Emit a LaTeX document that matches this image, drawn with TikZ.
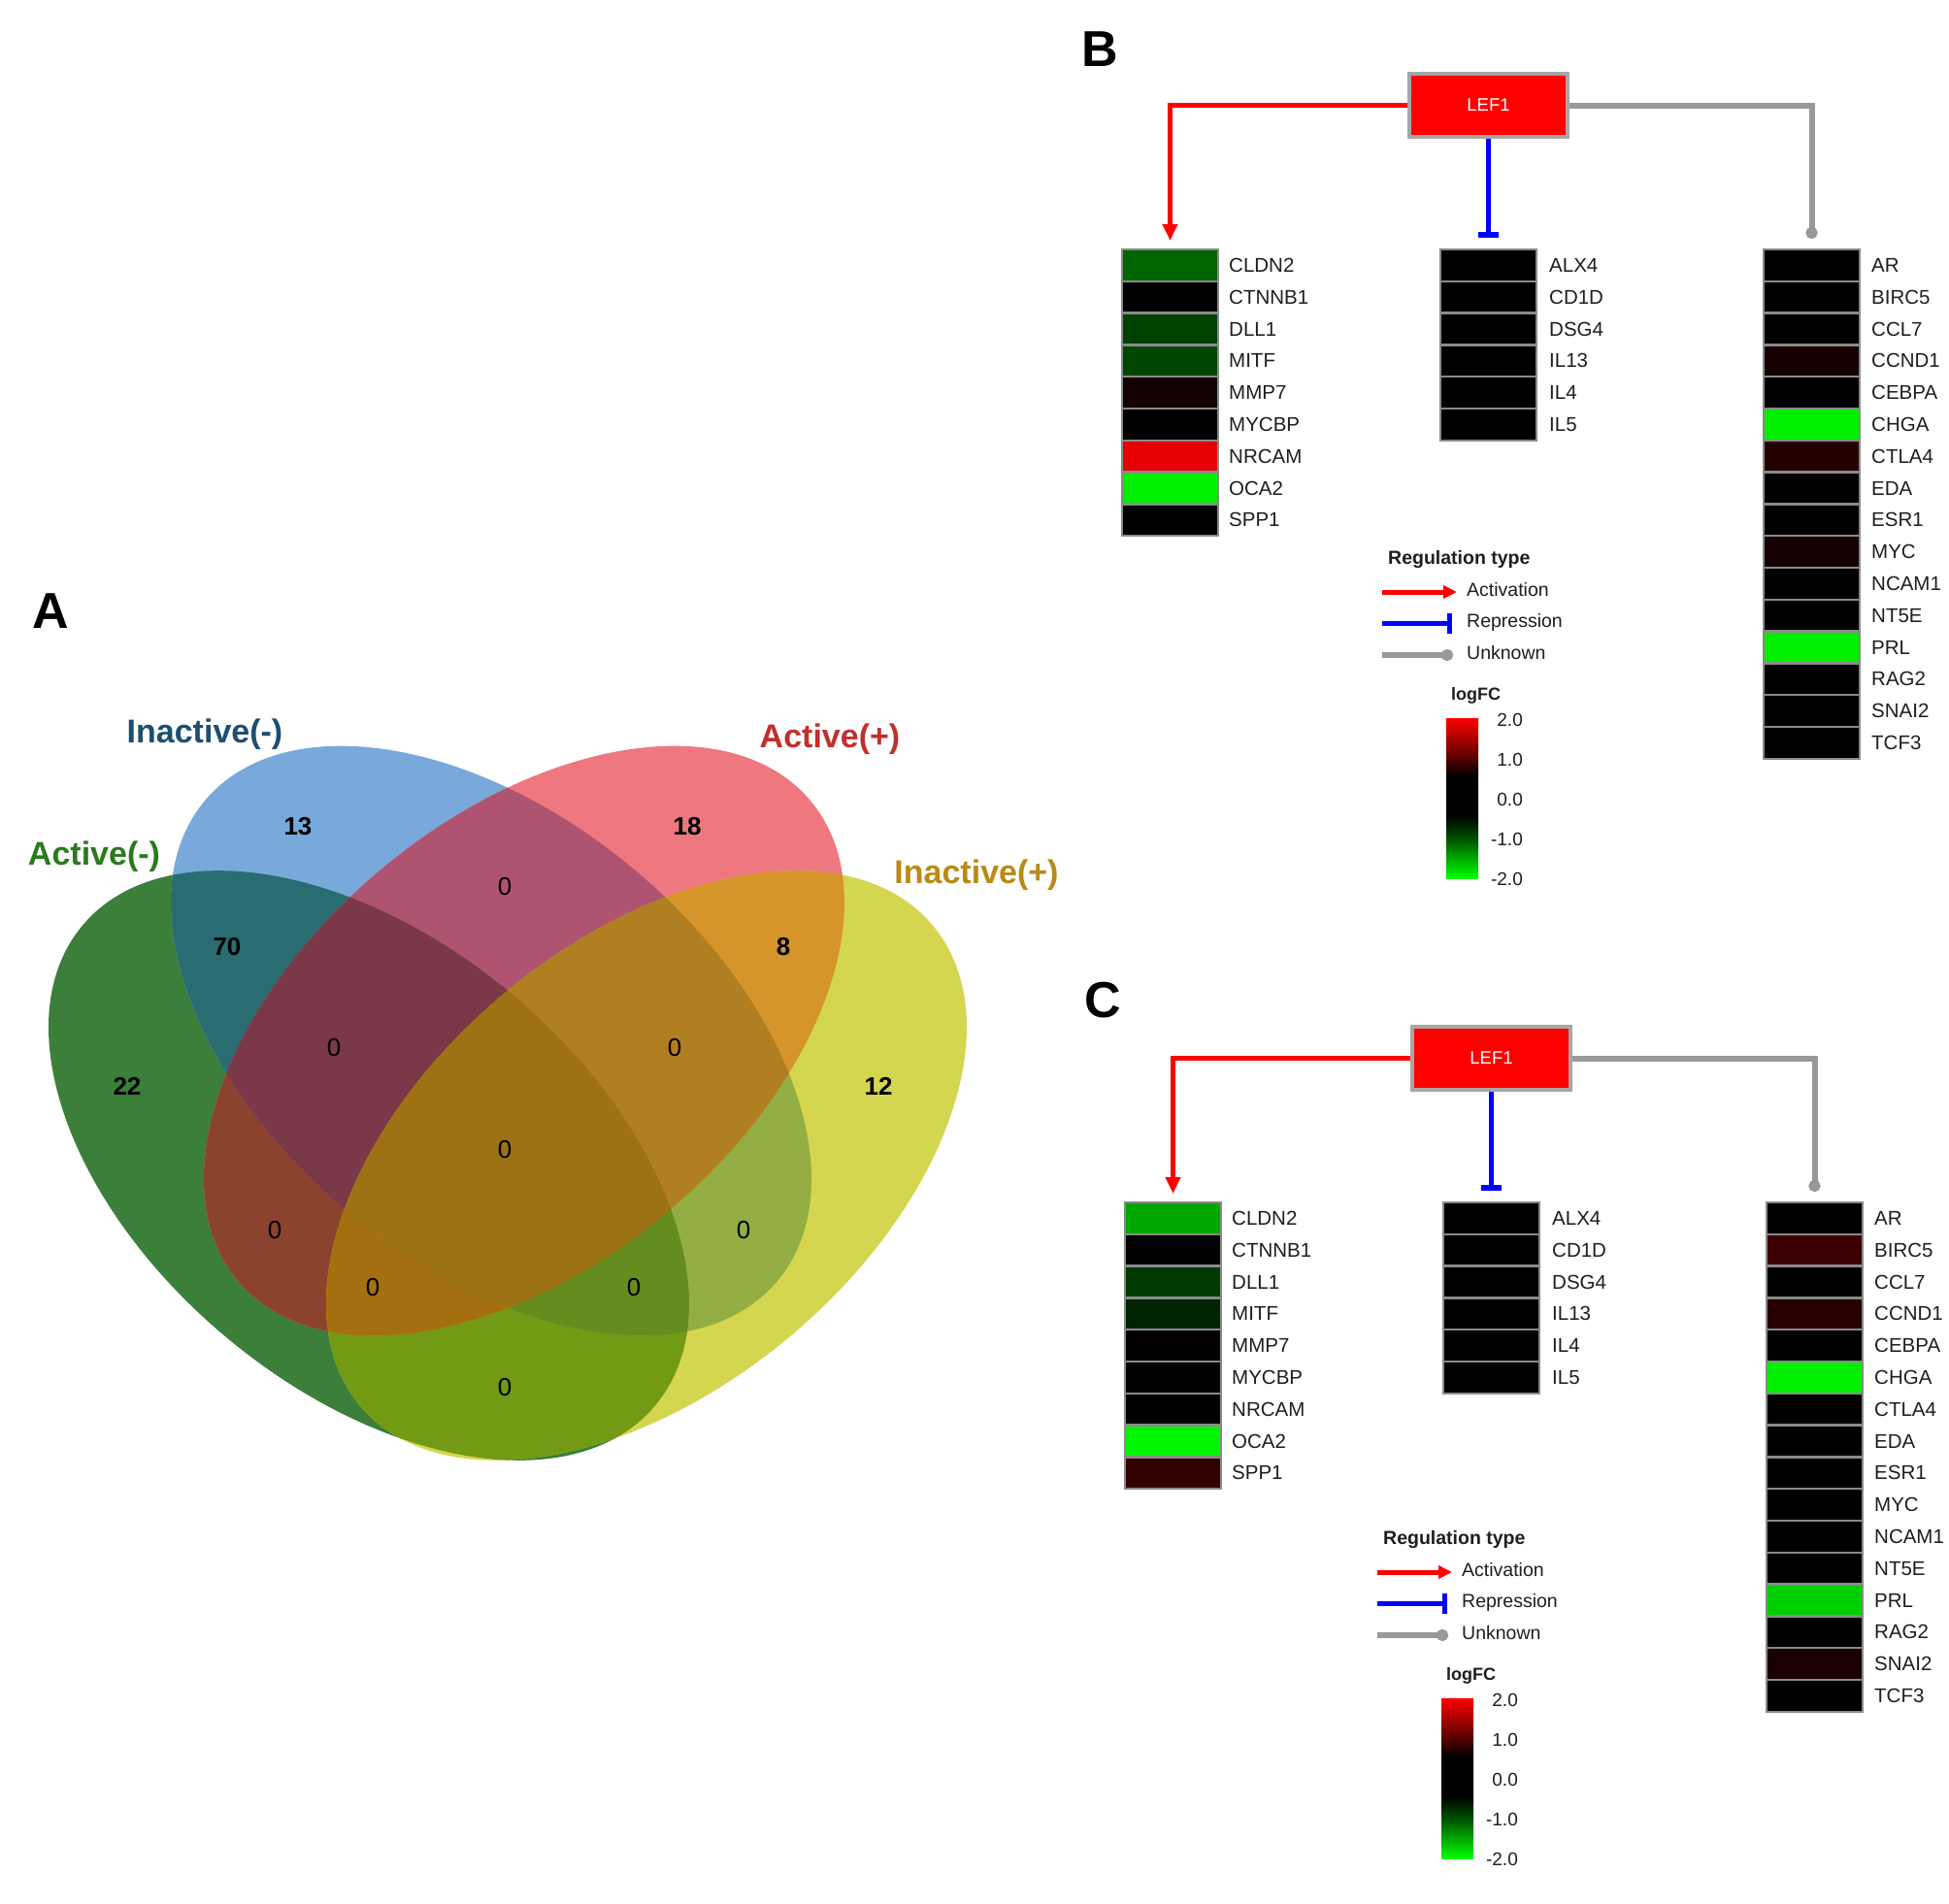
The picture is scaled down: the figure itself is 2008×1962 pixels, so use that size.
\documentclass[tikz,border=0pt]{standalone}
\usepackage{fontspec}
\setmainfont{Liberation Sans}
\usetikzlibrary{arrows.meta}
% Venn region colours
\definecolor{vG}{HTML}{3C7F3B}
\definecolor{vB}{HTML}{78A9DA}
\definecolor{vR}{HTML}{EE7780}
\definecolor{vY}{HTML}{D5D64F}
\definecolor{vGB}{HTML}{296D72}
\definecolor{vGR}{HTML}{8B432F}
\definecolor{vGY}{HTML}{739A14}
\definecolor{vBR}{HTML}{AE5470}
\definecolor{vBY}{HTML}{93AE43}
\definecolor{vRY}{HTML}{D5952B}
\definecolor{vGBR}{HTML}{7B3848}
\definecolor{vGBY}{HTML}{658C1E}
\definecolor{vGRY}{HTML}{A4700F}
\definecolor{vBRY}{HTML}{B07F22}
\definecolor{vALL}{HTML}{9D7214}
% labels
\definecolor{labIm}{HTML}{1B4F72}
\definecolor{labAp}{HTML}{C0302E}
\definecolor{labAm}{HTML}{2A7A1E}
\definecolor{labIp}{HTML}{B98A14}
% network
\definecolor{cellborder}{HTML}{8A8A8A}
\definecolor{boxborder}{HTML}{A6A6A6}
\definecolor{unkgray}{HTML}{999999}
\definecolor{genetext}{HTML}{1E1E1E}
\definecolor{cbG}{HTML}{00FF00}
\definecolor{cbDG}{HTML}{005000}
\definecolor{cbDR}{HTML}{500000}
\definecolor{cbR}{HTML}{FF0000}
\pgfdeclareverticalshading{logfcshade}{100bp}{color(0bp)=(cbG); color(25bp)=(cbG); color(37.5bp)=(cbDG); color(44.5bp)=(black); color(57bp)=(black); color(62bp)=(cbDR); color(75bp)=(cbR); color(100bp)=(cbR)}

\newcommand\ellG[1]{\path[#1,rotate around={-40:(380,1201)}] (380,1201) ellipse [x radius=385, y radius=230];}
\newcommand\ellB[1]{\path[#1,rotate around={-40:(506,1072.5)}] (506,1072.5) ellipse [x radius=385, y radius=230];}
\newcommand\ellR[1]{\path[#1,rotate around={40:(540,1072.5)}] (540,1072.5) ellipse [x radius=385, y radius=230];}
\newcommand\ellY[1]{\path[#1,rotate around={40:(666,1201)}] (666,1201) ellipse [x radius=385, y radius=230];}

% #1 name prefix, #2 cell left x, #3 top y, #4 label x, #5 list name/colour
\newcommand\genecolumn[5]{%
  \foreach \g/\c [count=\i from 0] in {#5} {
    \definecolor{cellc}{HTML}{\c}
    \pgfmathsetmacro\cy{#3+16.4+32.8*\i}
    \node[cell, fill=cellc] (#1-\i) at ({#2+49.5},\cy) {};
    \node[glabel] (#1l-\i) at (#4,\cy) {\g};
  }}

% #1 prefix, #2 dx, #3 dy
\newcommand\reglegend[3]{%
  \begin{scope}[shift={(#2,#3)}]
    \node[legtitle] (#1title) at (1430,579) {Regulation type};
    \coordinate (#1a0) at (1424,610);
    \coordinate (#1a1) at (1501,610);
    \draw[act, -{Triangle[length=14pt,width=13pt]}] (#1a0) -- (#1a1);
    \node[legtext] (#1at) at (1511,612) {Activation};
    \coordinate (#1r0) at (1424,642);
    \coordinate (#1r1) at (1496,642);
    \draw[rep, -{Bar[width=21pt,line width=5pt]}] (#1r0) -- (#1r1);
    \node[legtext] (#1rt) at (1511,644) {Repression};
    \coordinate (#1u0) at (1424,675);
    \coordinate (#1u1) at (1497,675);
    \draw[unk, -{Circle[length=12pt]}] (#1u0) -- (#1u1);
    \node[legtext] (#1ut) at (1511,677) {Unknown};
    \node[logfc] (#1lf) at (1495,719) {logFC};
    \shade[shading=logfcshade] (1490,740) rectangle (1523,905);
    \node[tick] (#1t2) at (1569,742) {2.0};
    \node[tick] (#1t1) at (1569,783) {1.0};
    \node[tick] (#1t0) at (1569,824) {0.0};
    \node[tick] (#1tm1) at (1569,865) {-1.0};
    \node[tick] (#1tm2) at (1569,906) {-2.0};
  \end{scope}}

\begin{document}
\begin{tikzpicture}[x=1pt,y=-1pt,
  cell/.style={rectangle, draw=cellborder, line width=2.5pt, minimum width=99pt, minimum height=32.8pt, inner sep=0pt, outer sep=0pt},
  glabel/.style={anchor=west, inner sep=0pt, text=genetext, font=\fontsize{20.5}{24}\selectfont},
  lefbox/.style={rectangle, fill=red, draw=boxborder, line width=4pt, minimum width=163pt, minimum height=65pt, inner sep=0pt, text=white, font=\fontsize{18.5}{20}\selectfont},
  act/.style={draw=red, line width=5pt, -{Triangle[length=17pt,width=15pt]}},
  rep/.style={draw=blue, line width=5pt, -{Bar[width=21pt,line width=6pt]}},
  unk/.style={draw=unkgray, line width=6pt, -{Circle[length=12pt]}},
  legtitle/.style={anchor=mid west, inner sep=0pt, text=genetext, font=\fontsize{19.5}{22}\selectfont\bfseries},
  legtext/.style={anchor=mid west, inner sep=0pt, text=genetext, font=\fontsize{19.5}{22}\selectfont},
  logfc/.style={anchor=mid west, inner sep=0pt, text=genetext, font=\fontsize{18}{20}\selectfont\bfseries},
  tick/.style={anchor=east, inner sep=0pt, text=genetext, font=\fontsize{19}{22}\selectfont},
  vnum/.style={inner sep=0pt, text=black, font=\fontsize{26}{30}\selectfont\bfseries},
  vzero/.style={inner sep=0pt, text=black, font=\fontsize{26}{30}\selectfont},
  setlab/.style={anchor=mid, inner sep=0pt, font=\fontsize{34}{40}\selectfont\bfseries},
  panel/.style={inner sep=0pt, text=black, font=\fontsize{52}{56}\selectfont\bfseries}]

\useasboundingbox (0,0) rectangle (2008,1962);
\fill[white] (0,0) rectangle (2008,1962);

% ---------------- Panel A: Venn diagram ----------------
\ellG{fill=vG}
\ellB{fill=vB}
\ellR{fill=vR}
\ellY{fill=vY}
\begin{scope}\ellG{clip}\ellB{fill=vGB}\end{scope}
\begin{scope}\ellG{clip}\ellR{fill=vGR}\end{scope}
\begin{scope}\ellG{clip}\ellY{fill=vGY}\end{scope}
\begin{scope}\ellB{clip}\ellR{fill=vBR}\end{scope}
\begin{scope}\ellB{clip}\ellY{fill=vBY}\end{scope}
\begin{scope}\ellR{clip}\ellY{fill=vRY}\end{scope}
\begin{scope}\ellG{clip}\ellB{clip}\ellR{fill=vGBR}\end{scope}
\begin{scope}\ellG{clip}\ellB{clip}\ellY{fill=vGBY}\end{scope}
\begin{scope}\ellG{clip}\ellR{clip}\ellY{fill=vGRY}\end{scope}
\begin{scope}\ellB{clip}\ellR{clip}\ellY{fill=vBRY}\end{scope}
\begin{scope}\ellG{clip}\ellB{clip}\ellR{clip}\ellY{fill=vALL}\end{scope}

\node[setlab, text=labIm] (sIm) at (211,763) {Inactive(-)};
\node[setlab, text=labAp] (sAp) at (855,768) {Active(+)};
\node[setlab, text=labAm] (sAm) at (97,889) {Active(-)};
\node[setlab, text=labIp] (sIp) at (1006,908) {Inactive(+)};

\node[vnum] (n13) at (307,852) {13};
\node[vnum] (n18) at (708,852) {18};
\node[vnum] (n70) at (234,976) {70};
\node[vnum] (n8) at (807,976) {8};
\node[vnum] (n22) at (131,1119) {22};
\node[vnum] (n12) at (905,1119) {12};
\node[vzero] (zBR) at (520,914) {0};
\node[vzero] (zGBR) at (344,1080) {0};
\node[vzero] (zBRY) at (695,1080) {0};
\node[vzero] (zALL) at (520,1185) {0};
\node[vzero] (zGR) at (283,1268) {0};
\node[vzero] (zBY) at (766,1268) {0};
\node[vzero] (zGRY) at (384,1327) {0};
\node[vzero] (zGBY) at (653,1327) {0};
\node[vzero] (zGY) at (520,1430) {0};

% ---------------- panel letters ----------------
\node[panel] (lA) at (52,630) {A};
\node[panel] (lB) at (1133,51) {B};
\node[panel] (lC) at (1136,1031) {C};

% ---------------- Panel B ----------------
\node[lefbox] (lefB) at (1533.5,108.5) {LEF1};
\genecolumn{B1}{1156}{257}{1266}{CLDN2/006400,CTNNB1/000000,DLL1/004100,MITF/004600,MMP7/140000,MYCBP/000000,NRCAM/E60000,OCA2/00EE00,SPP1/000000}
\genecolumn{B2}{1484}{257}{1596}{ALX4/000000,CD1D/000000,DSG4/000000,IL13/000000,IL4/000000,IL5/000000}
\genecolumn{B3}{1817}{257}{1928}{AR/000000,BIRC5/000000,CCL7/000000,CCND1/160000,CEBPA/000000,CHGA/00EE00,CTLA4/240000,EDA/000000,ESR1/000000,MYC/140000,NCAM1/000000,NT5E/000000,PRL/00EE00,RAG2/000000,SNAI2/000000,TCF3/000000}
\draw[act] (lefB.west) -| ([yshift=9pt]B1-0.north);
\draw[rep] (lefB.south) -- ([yshift=12pt]B2-0.north);
\draw[unk] (lefB.east) -| ([yshift=11pt]B3-0.north);
\reglegend{LB}{0}{0}

% ---------------- Panel C ----------------
\node[lefbox] (lefC) at (1536.5,1090.5) {LEF1};
\genecolumn{C1}{1159}{1239}{1269}{CLDN2/00A800,CTNNB1/000000,DLL1/003A00,MITF/002400,MMP7/000000,MYCBP/000000,NRCAM/000000,OCA2/00F500,SPP1/330000}
\genecolumn{C2}{1487}{1239}{1599}{ALX4/000000,CD1D/000000,DSG4/000000,IL13/000000,IL4/000000,IL5/000000}
\genecolumn{C3}{1820}{1239}{1931}{AR/000000,BIRC5/3C0000,CCL7/000000,CCND1/280000,CEBPA/000000,CHGA/00F000,CTLA4/000000,EDA/000000,ESR1/000000,MYC/000000,NCAM1/000000,NT5E/000000,PRL/00D000,RAG2/000000,SNAI2/1A0000,TCF3/000000}
\draw[act] (lefC.west) -| ([yshift=9pt]C1-0.north);
\draw[rep] (lefC.south) -- ([yshift=12pt]C2-0.north);
\draw[unk] (lefC.east) -| ([yshift=11pt]C3-0.north);
\reglegend{LC}{-5}{1010}

\end{tikzpicture}
\end{document}
